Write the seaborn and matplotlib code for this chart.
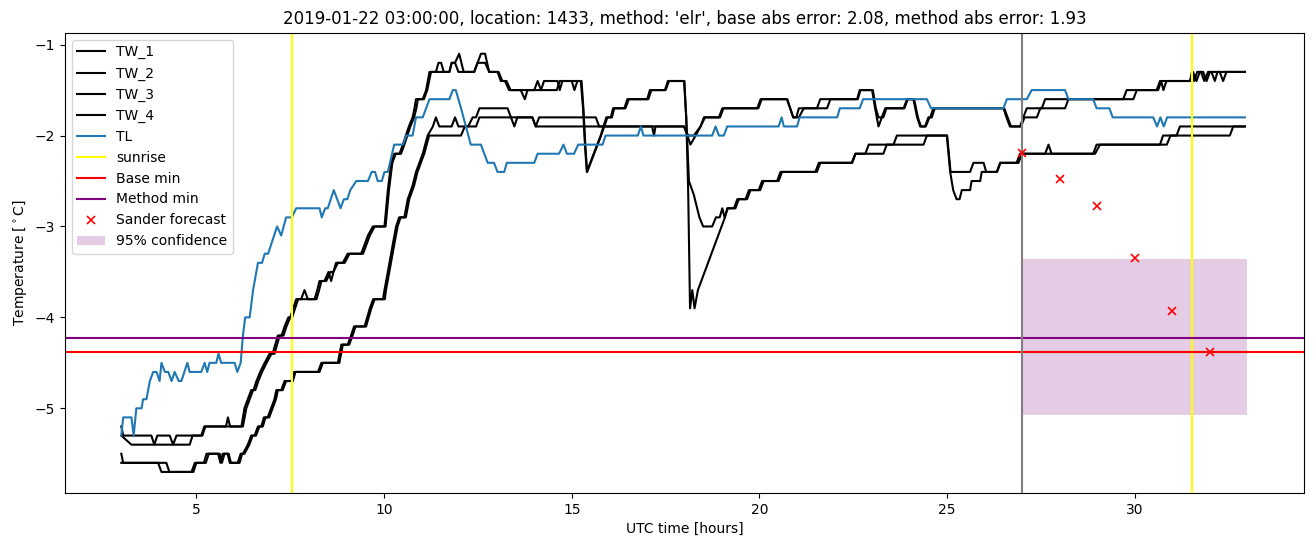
import matplotlib
matplotlib.use("Agg")
import matplotlib.pyplot as plt
import seaborn as sns
import pandas as pd

TITLE = "2019-01-22 03:00:00, location: 1433, method: 'elr', base abs error: 2.08, method abs error: 1.93"

TW1 = [(3.00,-5.2),(3.05,-5.3),(3.80,-5.3),(3.88,-5.4),(3.96,-5.3),(4.29,-5.3),(4.38,-5.4),(4.47,-5.3),(5.13,-5.3),(5.21,-5.2),(5.79,-5.2),(5.84,-5.1),(5.90,-5.2),(6.20,-5.2),
       (6.28,-5.0),(6.37,-4.9),(6.46,-4.8),(6.52,-4.8),(6.60,-4.7),(6.70,-4.6),(6.82,-4.5),(6.95,-4.4),(7.03,-4.4),(7.10,-4.3),(7.17,-4.2),(7.27,-4.2),(7.35,-4.1),(7.45,-4.0),(7.50,-4.0),(7.58,-3.9),(7.66,-3.8),(7.79,-3.8),(7.88,-3.7),(7.97,-3.8),(8.15,-3.8),(8.22,-3.7),(8.28,-3.6),(8.41,-3.6),(8.52,-3.5),(8.59,-3.6),(8.65,-3.5),(8.72,-3.4),(8.90,-3.4),(9.03,-3.3),(9.39,-3.3),(9.48,-3.2),(9.57,-3.1),(9.70,-3.0),(10.01,-3.0),(10.10,-2.6),(10.19,-2.3),(10.27,-2.2),(10.41,-2.2),(10.50,-2.1),(10.58,-2.0),(10.66,-1.9),(10.76,-1.8),(10.81,-1.7),(10.85,-1.6),(11.03,-1.6),(11.12,-1.5),(11.21,-1.3),(11.38,-1.3),(11.45,-1.2),(11.52,-1.2),(11.59,-1.3),(11.74,-1.3),(11.80,-1.2),(11.89,-1.2),(12.00,-1.1),(12.12,-1.3),(12.40,-1.3),(12.49,-1.2),(12.58,-1.1),(12.69,-1.1),(12.80,-1.3),(13.02,-1.3),(13.11,-1.4),(13.22,-1.4),(13.33,-1.5),(13.64,-1.5),(13.75,-1.6),(13.82,-1.5),(14.00,-1.5),(14.09,-1.4),(14.18,-1.5),(14.60,-1.5),(14.68,-1.4),(15.24,-1.4),
       (15.30,-1.7),(15.35,-2.1),(15.40,-2.4),(15.77,-2.0),(15.92,-1.8),(16.04,-1.8),(16.10,-1.7),(16.40,-1.7),(16.48,-1.6),(17.01,-1.6),(17.08,-1.5),(17.48,-1.5),(17.56,-1.4),(17.99,-1.4),
       (18.05,-1.8),(18.10,-2.6),(18.15,-3.9),(18.21,-3.7),(18.27,-3.9),(18.36,-3.7),(19.08,-2.9),(19.14,-2.8),(19.32,-2.8),(19.41,-2.7),(19.63,-2.7),(19.72,-2.6),(19.98,-2.6),(20.07,-2.5),(20.47,-2.5),(20.56,-2.4),(21.49,-2.4),(21.58,-2.3),(22.46,-2.3),(22.55,-2.2),(22.82,-2.2),(22.91,-2.1),(23.57,-2.1),(23.66,-2.0),(24.99,-2.0),
       (25.08,-2.4),(25.16,-2.6),(25.25,-2.7),(25.33,-2.7),(25.39,-2.6),(25.61,-2.6),(25.65,-2.5),(25.88,-2.5),(25.92,-2.4),(26.32,-2.4),(26.41,-2.3),(26.85,-2.3),(26.94,-2.2),(27.61,-2.2),(27.70,-2.1),(27.78,-2.2),(28.89,-2.2),(28.98,-2.1),(30.67,-2.1),(30.75,-2.0),(31.11,-2.0),(31.20,-1.9),(32.93,-1.9)]

TW2 = [(3.00,-5.3),(3.27,-5.4),(4.82,-5.4),(4.90,-5.3),(5.16,-5.3),(5.24,-5.2),(6.24,-5.2),
       (6.33,-5.0),(6.42,-4.9),(6.51,-4.8),(6.57,-4.8),(6.65,-4.7),(6.75,-4.6),(6.87,-4.5),(7.00,-4.4),(7.08,-4.4),(7.15,-4.3),(7.22,-4.2),(7.32,-4.2),(7.40,-4.1),(7.50,-4.0),(7.55,-4.0),(7.63,-3.9),(7.71,-3.8),(8.20,-3.8),(8.27,-3.7),(8.33,-3.6),(8.46,-3.6),(8.57,-3.5),(8.65,-3.5),(8.77,-3.4),(8.95,-3.4),(9.08,-3.3),(9.44,-3.3),(9.53,-3.2),(9.62,-3.1),(9.75,-3.0),(10.04,-3.0),(10.13,-2.6),(10.22,-2.3),(10.31,-2.2),(10.45,-2.2),(10.54,-2.1),(10.62,-2.0),(10.70,-1.9),(10.80,-1.8),(10.86,-1.7),(10.90,-1.6),(11.06,-1.6),(11.15,-1.5),(11.25,-1.3),(11.74,-1.3),(11.80,-1.2),(11.89,-1.2),(11.98,-1.3),(12.40,-1.3),(12.49,-1.2),(12.69,-1.2),(12.80,-1.3),(13.05,-1.3),(13.15,-1.4),(13.26,-1.4),(13.37,-1.5),(14.18,-1.5),(14.26,-1.4),(14.62,-1.4),(14.68,-1.5),(14.75,-1.4),(15.00,-1.4),(15.07,-1.5),(15.15,-1.4),(15.26,-1.4),
       (15.31,-1.7),(15.36,-2.1),(15.41,-2.4),(15.78,-2.0),(15.95,-1.8),(16.07,-1.8),(16.13,-1.7),(16.43,-1.7),(16.52,-1.6),(17.04,-1.6),(17.12,-1.5),(17.50,-1.5),(17.59,-1.4),(18.00,-1.4),
       (18.07,-2.0),(18.12,-2.5),(18.25,-2.65),(18.40,-2.9),(18.50,-3.0),(18.74,-3.0),(18.84,-2.9),(18.94,-2.9),(19.01,-2.8),(19.07,-2.9),(19.16,-2.8),(19.36,-2.8),(19.45,-2.7),(19.67,-2.7),(19.76,-2.6),(20.02,-2.6),(20.11,-2.5),(20.51,-2.5),(20.60,-2.4),(21.53,-2.4),(21.62,-2.3),(22.47,-2.3),(22.56,-2.2),(23.30,-2.2),(23.39,-2.1),(24.37,-2.1),(24.46,-2.0),(25.00,-2.0),(25.09,-2.4),(25.61,-2.4),(25.70,-2.3),(25.97,-2.3),(26.04,-2.4),(26.33,-2.4),(26.42,-2.3),(26.90,-2.3),(26.99,-2.2),(28.94,-2.2),(29.07,-2.1),(30.85,-2.1),(30.95,-2.0),(32.53,-2.0),(32.62,-1.9),(32.93,-1.9)]

TW3 = [(3.00,-5.5),(3.05,-5.6),(3.98,-5.6),(4.07,-5.7),(4.87,-5.7),(4.96,-5.6),(5.20,-5.6),(5.27,-5.5),(5.62,-5.5),(5.68,-5.6),(5.75,-5.5),(5.86,-5.5),(5.92,-5.6),(6.10,-5.6),(6.18,-5.5),(6.24,-5.5),
       (6.37,-5.4),(6.46,-5.3),(6.55,-5.3),(6.64,-5.2),(6.73,-5.2),(6.80,-5.1),(6.90,-5.1),(6.99,-5.0),(7.08,-4.9),(7.13,-4.8),(7.26,-4.8),(7.35,-4.7),(7.53,-4.7),(7.60,-4.6),(8.24,-4.6),(8.33,-4.5),(8.77,-4.5),(8.86,-4.3),(9.03,-4.3),(9.12,-4.2),(9.20,-4.1),(9.48,-4.1),(9.55,-4.0),(9.62,-3.9),(9.71,-3.8),(9.97,-3.8),(10.01,-3.7),(10.10,-3.5),(10.23,-3.2),(10.32,-3.0),(10.40,-2.9),(10.54,-2.9),(10.63,-2.7),(10.76,-2.55),(10.85,-2.4),(10.94,-2.3),(11.03,-2.2),(11.16,-2.0),(11.30,-1.9),(11.38,-1.8),(11.47,-1.9),(11.80,-1.9),(11.89,-1.8),(11.98,-1.9),(12.24,-1.9),(12.36,-1.8),(12.45,-1.8),(12.54,-1.7),(13.29,-1.7),(13.38,-1.8),(13.47,-1.9),(13.55,-1.8),(13.95,-1.8),(14.04,-1.9),(14.13,-1.8),(15.64,-1.8),(15.73,-1.9),(17.99,-1.9),(18.10,-2.0),(18.25,-2.0),(18.43,-1.9),(18.52,-1.8),(18.92,-1.8),(19.01,-1.7),(19.94,-1.7),(20.03,-1.6),(20.73,-1.6),(20.90,-1.8),(20.98,-1.8),(21.05,-1.7),(21.53,-1.7),(21.62,-1.6),(22.60,-1.6),(22.67,-1.5),(23.00,-1.5),(23.08,-1.7),(23.17,-1.9),(23.26,-1.8),(23.35,-1.7),(23.84,-1.7),(23.93,-1.6),(24.10,-1.6),(24.20,-1.8),(24.28,-1.9),(24.41,-1.9),(24.50,-1.8),(24.55,-1.8),(24.63,-1.7),(26.50,-1.7),(26.58,-1.8),(26.67,-1.9),(26.94,-1.9),(27.03,-1.8),(27.12,-1.7),(27.52,-1.7),(27.61,-1.6),(29.69,-1.6),(29.78,-1.5),(30.58,-1.5),(30.67,-1.4),(31.47,-1.4),(31.55,-1.3),(31.64,-1.4),(31.73,-1.3),(31.82,-1.3),(31.91,-1.4),(32.00,-1.3),(32.26,-1.3),(32.35,-1.4),(32.44,-1.3),(32.93,-1.3)]

TW4 = [(3.00,-5.6),(4.20,-5.6),(4.28,-5.7),(4.92,-5.7),(5.00,-5.6),(5.25,-5.6),(5.33,-5.5),(5.58,-5.5),(5.64,-5.6),(5.70,-5.5),(5.83,-5.5),(5.89,-5.6),(6.15,-5.6),(6.22,-5.5),(6.28,-5.5),
       (6.41,-5.4),(6.50,-5.3),(6.59,-5.3),(6.68,-5.2),(6.77,-5.2),(6.84,-5.1),(6.94,-5.1),(7.03,-5.0),(7.12,-4.9),(7.17,-4.8),(7.30,-4.8),(7.39,-4.7),(7.57,-4.7),(7.64,-4.6),(8.28,-4.6),(8.37,-4.5),(8.81,-4.5),(8.90,-4.3),(9.07,-4.3),(9.16,-4.2),(9.24,-4.1),(9.52,-4.1),(9.59,-4.0),(9.66,-3.9),(9.75,-3.8),(10.02,-3.8),(10.05,-3.7),(10.14,-3.5),(10.27,-3.2),(10.36,-3.0),(10.44,-2.9),(10.58,-2.9),(10.67,-2.7),(10.80,-2.55),(10.89,-2.4),(10.98,-2.3),(11.07,-2.2),(11.20,-2.0),(12.05,-2.0),(12.15,-1.9),(12.45,-1.9),(12.54,-1.8),(13.95,-1.8),(14.04,-1.9),(17.14,-1.9),(17.19,-2.0),(17.23,-1.9),(17.99,-1.9),(18.08,-2.0),(18.16,-2.1),(18.30,-2.0),(18.43,-1.9),(18.55,-1.8),(18.95,-1.8),(19.04,-1.7),(19.97,-1.7),(20.06,-1.6),(20.74,-1.6),(20.90,-1.8),(21.05,-1.8),(21.18,-1.7),(21.80,-1.7),(21.89,-1.6),(22.62,-1.6),(22.69,-1.5),(23.02,-1.5),(23.10,-1.7),(23.17,-1.8),(23.30,-1.8),(23.38,-1.7),(23.86,-1.7),(23.95,-1.6),(24.12,-1.6),(24.22,-1.8),(24.30,-1.9),(24.43,-1.9),(24.53,-1.8),(24.59,-1.8),(24.67,-1.7),(26.52,-1.7),(26.61,-1.8),(26.70,-1.9),(26.97,-1.9),(27.06,-1.8),(27.39,-1.8),(27.48,-1.7),(28.14,-1.7),(28.23,-1.6),(29.96,-1.6),(30.05,-1.5),(30.62,-1.5),(30.70,-1.4),(30.76,-1.5),(30.84,-1.4),(31.47,-1.4),(31.52,-1.3),(31.58,-1.4),(31.66,-1.3),(31.76,-1.3),(31.85,-1.4),(31.95,-1.3),(32.04,-1.3),(32.13,-1.4),(32.20,-1.3),(32.93,-1.3)]

TL = [(3.00,-5.3),(3.05,-5.1),(3.27,-5.1),(3.33,-5.3),(3.40,-5.0),(3.54,-5.0),(3.58,-4.9),(3.67,-4.9),(3.76,-4.7),(3.85,-4.6),(3.94,-4.6),(4.02,-4.7),(4.07,-4.5),(4.16,-4.6),(4.25,-4.6),(4.34,-4.7),(4.42,-4.6),(4.53,-4.7),(4.60,-4.7),(4.76,-4.5),(4.82,-4.6),(5.13,-4.6),(5.22,-4.5),(5.29,-4.6),(5.35,-4.5),(5.53,-4.5),(5.59,-4.4),(5.66,-4.5),(6.02,-4.5),(6.09,-4.6),(6.18,-4.5),(6.24,-4.2),(6.30,-4.0),(6.42,-4.0),(6.51,-3.7),(6.64,-3.4),(6.75,-3.4),(6.82,-3.3),(6.91,-3.3),(6.99,-3.2),(7.15,-3.0),(7.26,-3.1),(7.39,-2.9),(7.54,-2.9),(7.66,-2.8),(8.28,-2.8),(8.34,-2.9),(8.43,-2.8),(8.50,-2.8),(8.66,-2.6),(8.84,-2.8),(8.93,-2.7),(9.02,-2.7),(9.10,-2.6),(9.26,-2.5),(9.57,-2.5),(9.67,-2.4),(9.76,-2.4),(9.83,-2.5),(9.94,-2.5),(10.01,-2.4),(10.10,-2.4),(10.27,-2.1),(10.50,-2.1),(10.59,-2.0),(10.76,-2.0),(10.85,-1.8),(11.03,-1.8),(11.12,-1.7),(11.21,-1.6),(11.74,-1.6),(11.83,-1.5),(11.91,-1.5),(12.05,-1.7),(12.31,-2.1),(12.58,-2.1),(12.76,-2.3),(12.93,-2.3),(13.02,-2.4),(13.20,-2.4),(13.27,-2.3),(14.00,-2.3),(14.09,-2.2),(14.66,-2.2),(14.78,-2.1),(14.87,-2.2),(15.06,-2.2),(15.17,-2.1),(15.82,-2.1),(15.90,-2.0),(16.76,-2.0),(16.84,-1.9),(16.91,-2.0),(18.74,-2.0),(18.83,-1.9),(18.92,-2.0),(19.05,-2.0),(19.14,-1.9),(20.51,-1.9),(20.59,-1.8),(20.65,-1.9),(21.00,-1.9),(21.07,-1.8),(22.07,-1.8),(22.14,-1.7),(22.67,-1.7),(22.76,-1.6),(24.46,-1.6),(24.57,-1.7),(26.50,-1.7),(26.59,-1.6),(27.12,-1.6),(27.25,-1.5),(28.14,-1.5),(28.23,-1.6),(28.89,-1.6),(28.98,-1.7),(29.32,-1.7),(29.41,-1.8),(30.49,-1.8),(30.59,-1.9),(30.68,-1.8),(30.77,-1.9),(30.86,-1.8),(32.93,-1.8)]

SUNRISE = [7.55, 31.53]
FORECAST_START = 27.0
BASE_MIN = -4.38
METHOD_MIN = -4.23
SANDER_T = [27, 28, 29, 30, 31, 32]
SANDER_V = [-2.19, -2.48, -2.77, -3.35, -3.93, -4.38]
CONF_T = [27.0, 33.0]
CONF_LOW = -5.07
CONF_HIGH = -3.36

fig, ax = plt.subplots(figsize=(13.13, 5.47), dpi=100)
fig.subplots_adjust(left=0.0495, right=0.993, top=0.94, bottom=0.099)

for name, pts in [("TW_1", TW1), ("TW_2", TW2), ("TW_3", TW3), ("TW_4", TW4)]:
    df = pd.DataFrame(pts, columns=["t", "v"])
    sns.lineplot(data=df, x="t", y="v", color="black", label=name, ax=ax,
                 estimator=None, sort=False, linewidth=1.5)

df = pd.DataFrame(TL, columns=["t", "v"])
sns.lineplot(data=df, x="t", y="v", color="#1f77b4", label="TL", ax=ax,
             estimator=None, sort=False, linewidth=1.5)

ax.axvline(SUNRISE[0], color="yellow", label="sunrise")
ax.axvline(SUNRISE[1], color="yellow", label="_nolegend_")
ax.axhline(BASE_MIN, color="red", label="Base min")
ax.axhline(METHOD_MIN, color="purple", label="Method min")
ax.axvline(FORECAST_START, color="grey", label="_nolegend_")

sdf = pd.DataFrame({"t": SANDER_T, "v": SANDER_V})
sns.lineplot(data=sdf, x="t", y="v", ax=ax, estimator=None, sort=False,
             marker="x", linestyle="", color="red", markersize=6,
             markeredgecolor="red", markeredgewidth=1.2, label="Sander forecast")

ax.fill_between(CONF_T, [CONF_LOW, CONF_LOW], [CONF_HIGH, CONF_HIGH],
                color="purple", alpha=0.2, linewidth=0, label="95% confidence")

ax.set_title(TITLE)
ax.set_xlabel("UTC time [hours]")
ax.set_ylabel("Temperature [$^\\circ$C]")
ax.legend(loc="upper left")

fig.savefig("out.png", dpi=100)
